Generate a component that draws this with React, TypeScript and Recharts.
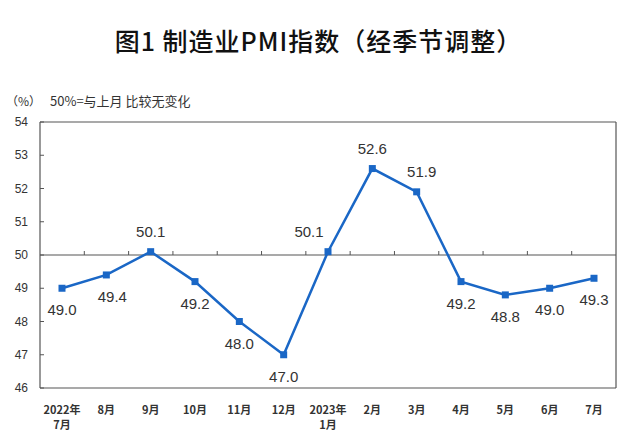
import React from 'react';
import { LineChart, Line, XAxis, YAxis, ReferenceLine, LabelList } from 'recharts';

const months = ['2022年\n7月', '8月', '9月', '10月', '11月', '12月', '2023年\n1月', '2月', '3月', '4月', '5月', '6月', '7月'];
const pmi = [49.0, 49.4, 50.1, 49.2, 48.0, 47.0, 50.1, 52.6, 51.9, 49.2, 48.8, 49.0, 49.3];
const yTicks = [46, 47, 48, 49, 50, 51, 52, 53, 54];

const data = months.map((m, i) => ({ month: m, pmi: pmi[i] }));

const BLUE = '#1a67c6';
const FRAME = '#555';
const TEXT = '#333';

// small horizontal nudges so labels clear the line
const labelNudge: { [k: number]: number } = { 1: 6, 6: -19, 8: 5 };

const XTick = (props: any) => {
    const { x, y, payload } = props;
    const lines = String(payload.value).split('\n');
    return (
        <text x={x} y={y} textAnchor="middle" fontSize={11} fontWeight="bold" fill={TEXT}
            fontFamily="'Noto Sans CJK SC', sans-serif">
            {lines.map((l, i) => (
                <tspan key={i} x={x} y={y + 26 + i * 15}>{l}</tspan>
            ))}
        </text>
    );
};

const YTick = (props: any) => {
    const { x, y, payload } = props;
    return (
        <g>
            <line x1={x} x2={x + 4} y1={y} y2={y} stroke={FRAME} />
            <text x={x - 12} y={y + 4} textAnchor="end" fontSize={12} fill={TEXT}
                fontFamily="'Liberation Sans', Arial, sans-serif">{payload.value}</text>
        </g>
    );
};

const MidLine = (props: any) => {
    const x1 = props.x1 ?? props.points?.[0]?.x;
    const y1 = props.y1 ?? props.points?.[0]?.y;
    const x2 = props.x2 ?? props.points?.[1]?.x;
    const n = months.length;
    const step = (x2 - x1) / n;
    return (
        <g>
            <line x1={x1} x2={x2} y1={y1} y2={y1} stroke={FRAME} strokeWidth={1.2} />
            {months.slice(1).map((_, k) => (
                <line key={k} x1={x1 + (k + 1) * step} x2={x1 + (k + 1) * step} y1={y1} y2={y1 - 4} stroke={FRAME} />
            ))}
        </g>
    );
};

const SquareDot = (props: any) => {
    const { cx, cy } = props;
    if (cx == null || cy == null) return null;
    return <rect x={cx - 3.5} y={cy - 3.5} width={7} height={7} fill={BLUE} />;
};

const ValueLabel = (props: any) => {
    const { x, y, value, index } = props;
    const above = value > 50;
    const dx = labelNudge[index] || 0;
    return (
        <text x={x + dx} y={above ? y - 15 : y + 27} textAnchor="middle" fontSize={15} fill={TEXT}
            fontFamily="'Liberation Sans', Arial, sans-serif">
            {Number(value).toFixed(1)}
        </text>
    );
};

export default function App() {
    return (
        <div style={{ position: 'absolute', left: 0, top: 0, width: 637, height: 443, background: '#fff' }}>
            <div style={{
                position: 'absolute', left: 0, top: 23, width: 637, textAlign: 'center',
                fontSize: 25, fontWeight: 500, color: '#111', letterSpacing: 1,
                fontFamily: "'Noto Sans CJK SC', sans-serif", lineHeight: '34px'
            }}>
                图1 制造业PMI指数（经季节调整）
            </div>
            <div style={{
                position: 'absolute', left: 6, top: 92, fontSize: 12, color: TEXT,
                fontFamily: "'Noto Sans CJK SC', sans-serif", lineHeight: '18px'
            }}>
                （%）
            </div>
            <div style={{
                position: 'absolute', left: 50, top: 92, fontSize: 13, color: TEXT,
                fontFamily: "'Noto Sans CJK SC', sans-serif", lineHeight: '18px'
            }}>
                50%=与上月 比较无变化
            </div>
            <LineChart
                width={637}
                height={443}
                data={data}
                margin={{ top: 121, right: 20, bottom: 15, left: 10 }}
                style={{ position: 'absolute', left: 0, top: 0 }}
            >
                <XAxis
                    dataKey="month"
                    interval={0}
                    padding={{ left: 22, right: 22 }}
                    tickSize={0}
                    tickMargin={0}
                    tick={<XTick />}
                    tickLine={false}
                    axisLine={{ stroke: FRAME, strokeWidth: 1.2 }}
                    height={40}
                />
                <XAxis xAxisId="top" orientation="top" dataKey="month" height={1} tick={false} tickLine={false}
                    axisLine={{ stroke: FRAME, strokeWidth: 1.2 }} />
                <YAxis
                    domain={[46, 54]}
                    ticks={yTicks}
                    interval={0}
                    width={30}
                    tickSize={0}
                    tickMargin={0}
                    tickLine={false}
                    tick={<YTick />}
                    axisLine={{ stroke: FRAME, strokeWidth: 1.2 }}
                />
                <YAxis yAxisId="right" orientation="right" width={1} domain={[46, 54]} tick={false} tickLine={false}
                    axisLine={{ stroke: FRAME, strokeWidth: 1.2 }} />
                <ReferenceLine y={50} shape={<MidLine />} />
                <Line
                    type="linear"
                    dataKey="pmi"
                    stroke={BLUE}
                    strokeWidth={2.5}
                    dot={<SquareDot />}
                    activeDot={false}
                    isAnimationActive={false}
                >
                    <LabelList dataKey="pmi" content={<ValueLabel />} />
                </Line>
            </LineChart>
        </div>
    );
}
